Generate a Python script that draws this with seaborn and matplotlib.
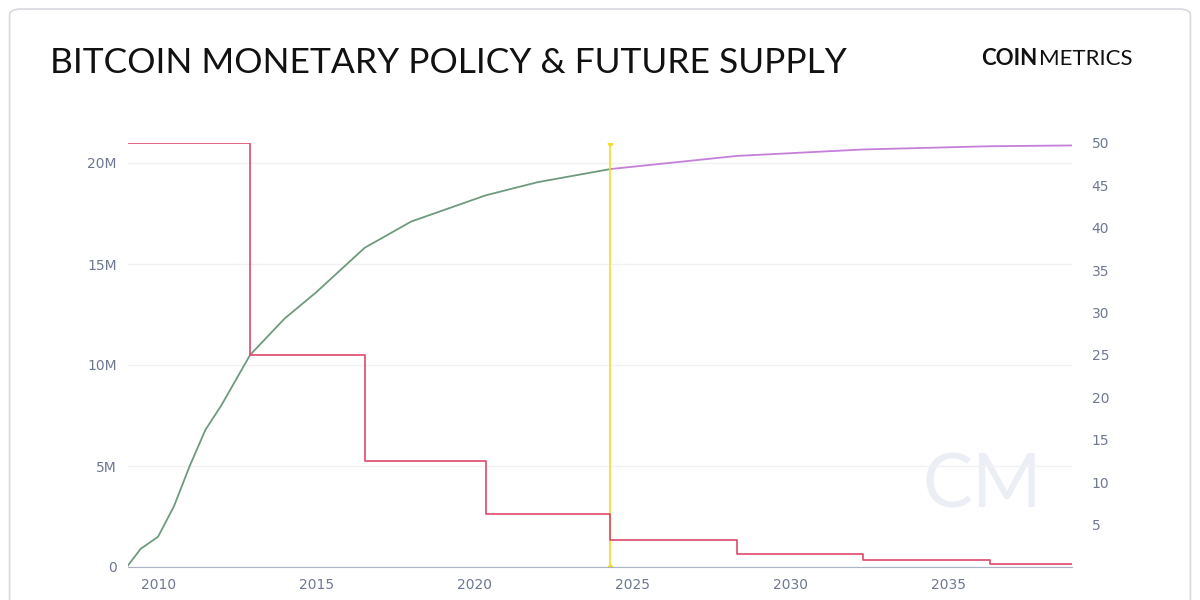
import matplotlib
matplotlib.use("Agg")
import matplotlib.pyplot as plt
import seaborn as sns
import pandas as pd
from matplotlib.patches import FancyBboxPatch

halving_years = [2009.01, 2012.91, 2016.53, 2020.36, 2024.30, 2028.30, 2032.30, 2036.30, 2038.95]
block_reward = [50, 25, 12.5, 6.25, 3.125, 1.5625, 0.78125, 0.390625, 0.390625]

hist_years = [2009.01, 2009.45, 2010.0, 2010.5, 2011.0, 2011.5, 2012.0, 2012.91, 2014.0, 2015.0, 2016.53, 2018.0, 2020.36, 2022.0, 2024.30]
hist_supply = [0, 0.9, 1.5, 3.0, 5.0, 6.8, 8.0, 10.5, 12.3, 13.6, 15.8, 17.1, 18.4, 19.05, 19.7]
fut_years = [2024.30, 2028.30, 2032.30, 2036.30, 2038.95]
fut_supply = [19.7, 20.35, 20.67, 20.83, 20.87]
now_year = 2024.30

tick_years = [2010, 2015, 2020, 2025, 2030, 2035]
left_ticks = [0, 5, 10, 15, 20]
right_ticks = [5, 10, 15, 20, 25, 30, 35, 40, 45, 50]

fig = plt.figure(figsize=(12, 6), dpi=100)
fig.patch.set_facecolor("white")
fig.patches.append(FancyBboxPatch((0.008, -0.05), 0.984, 1.035, boxstyle="round,pad=0,rounding_size=0.01",
                                  transform=fig.transFigure, fill=False, ec="#d5d8de", lw=1.2))
fig.text(0.042, 0.895, "BITCOIN MONETARY POLICY & FUTURE SUPPLY", fontsize=25.5, family="Lato", color="#111111", va="center")
fig.text(0.818, 0.902, "COIN", fontsize=16, family="Lato", weight="bold", color="#111", va="center")
fig.text(0.8655, 0.902, "METRICS", fontsize=16, family="Lato", color="#111", va="center")

ax = fig.add_axes([0.1067, 0.055, 0.7867, 0.707])
ax2 = ax.twinx()
tc = "#6e7891"
df_h = pd.DataFrame({"year": hist_years, "supply": [v * 1e6 for v in hist_supply]})
df_f = pd.DataFrame({"year": fut_years, "supply": [v * 1e6 for v in fut_supply]})
sns.lineplot(data=df_h, x="year", y="supply", ax=ax, color="#6e9a7e", lw=1.3)
sns.lineplot(data=df_f, x="year", y="supply", ax=ax, color="#c57fd9", lw=1.3)
ax.plot([now_year, now_year], [0, 21e6], color="#f2dc2a", lw=1.2, marker="o", ms=3)
ax.set_xlim(2009.05, 2038.9)
ax.set_ylim(0, 21e6)
ax.set_yticks([v * 1e6 for v in left_ticks])
ax.set_yticklabels(["0" if v == 0 else f"{v}M" for v in left_ticks])
ax.set_xticks(tick_years)
ax.grid(axis="y", color="#f0f1f4", lw=1)
ax.set_xlabel(""); ax.set_ylabel("")
for s in ["top", "right", "left"]:
    ax.spines[s].set_visible(False)
ax.spines["bottom"].set_color("#aab3c5")
ax.tick_params(colors=tc, labelsize=10, length=0, pad=8)

ax2.step(halving_years, block_reward, where="post", color="#e0486a", lw=1.2)
ax2.set_ylim(0, 50)
ax2.set_yticks(right_ticks)
for s in ax2.spines.values():
    s.set_visible(False)
ax2.tick_params(colors=tc, labelsize=10, length=0, pad=14)
ax.text(0.905, 0.19, "CM", transform=ax.transAxes, fontsize=54, color="#eceef5", ha="center", va="center", family="Lato", zorder=0)
fig.savefig("out.png", dpi=100, facecolor="white")
